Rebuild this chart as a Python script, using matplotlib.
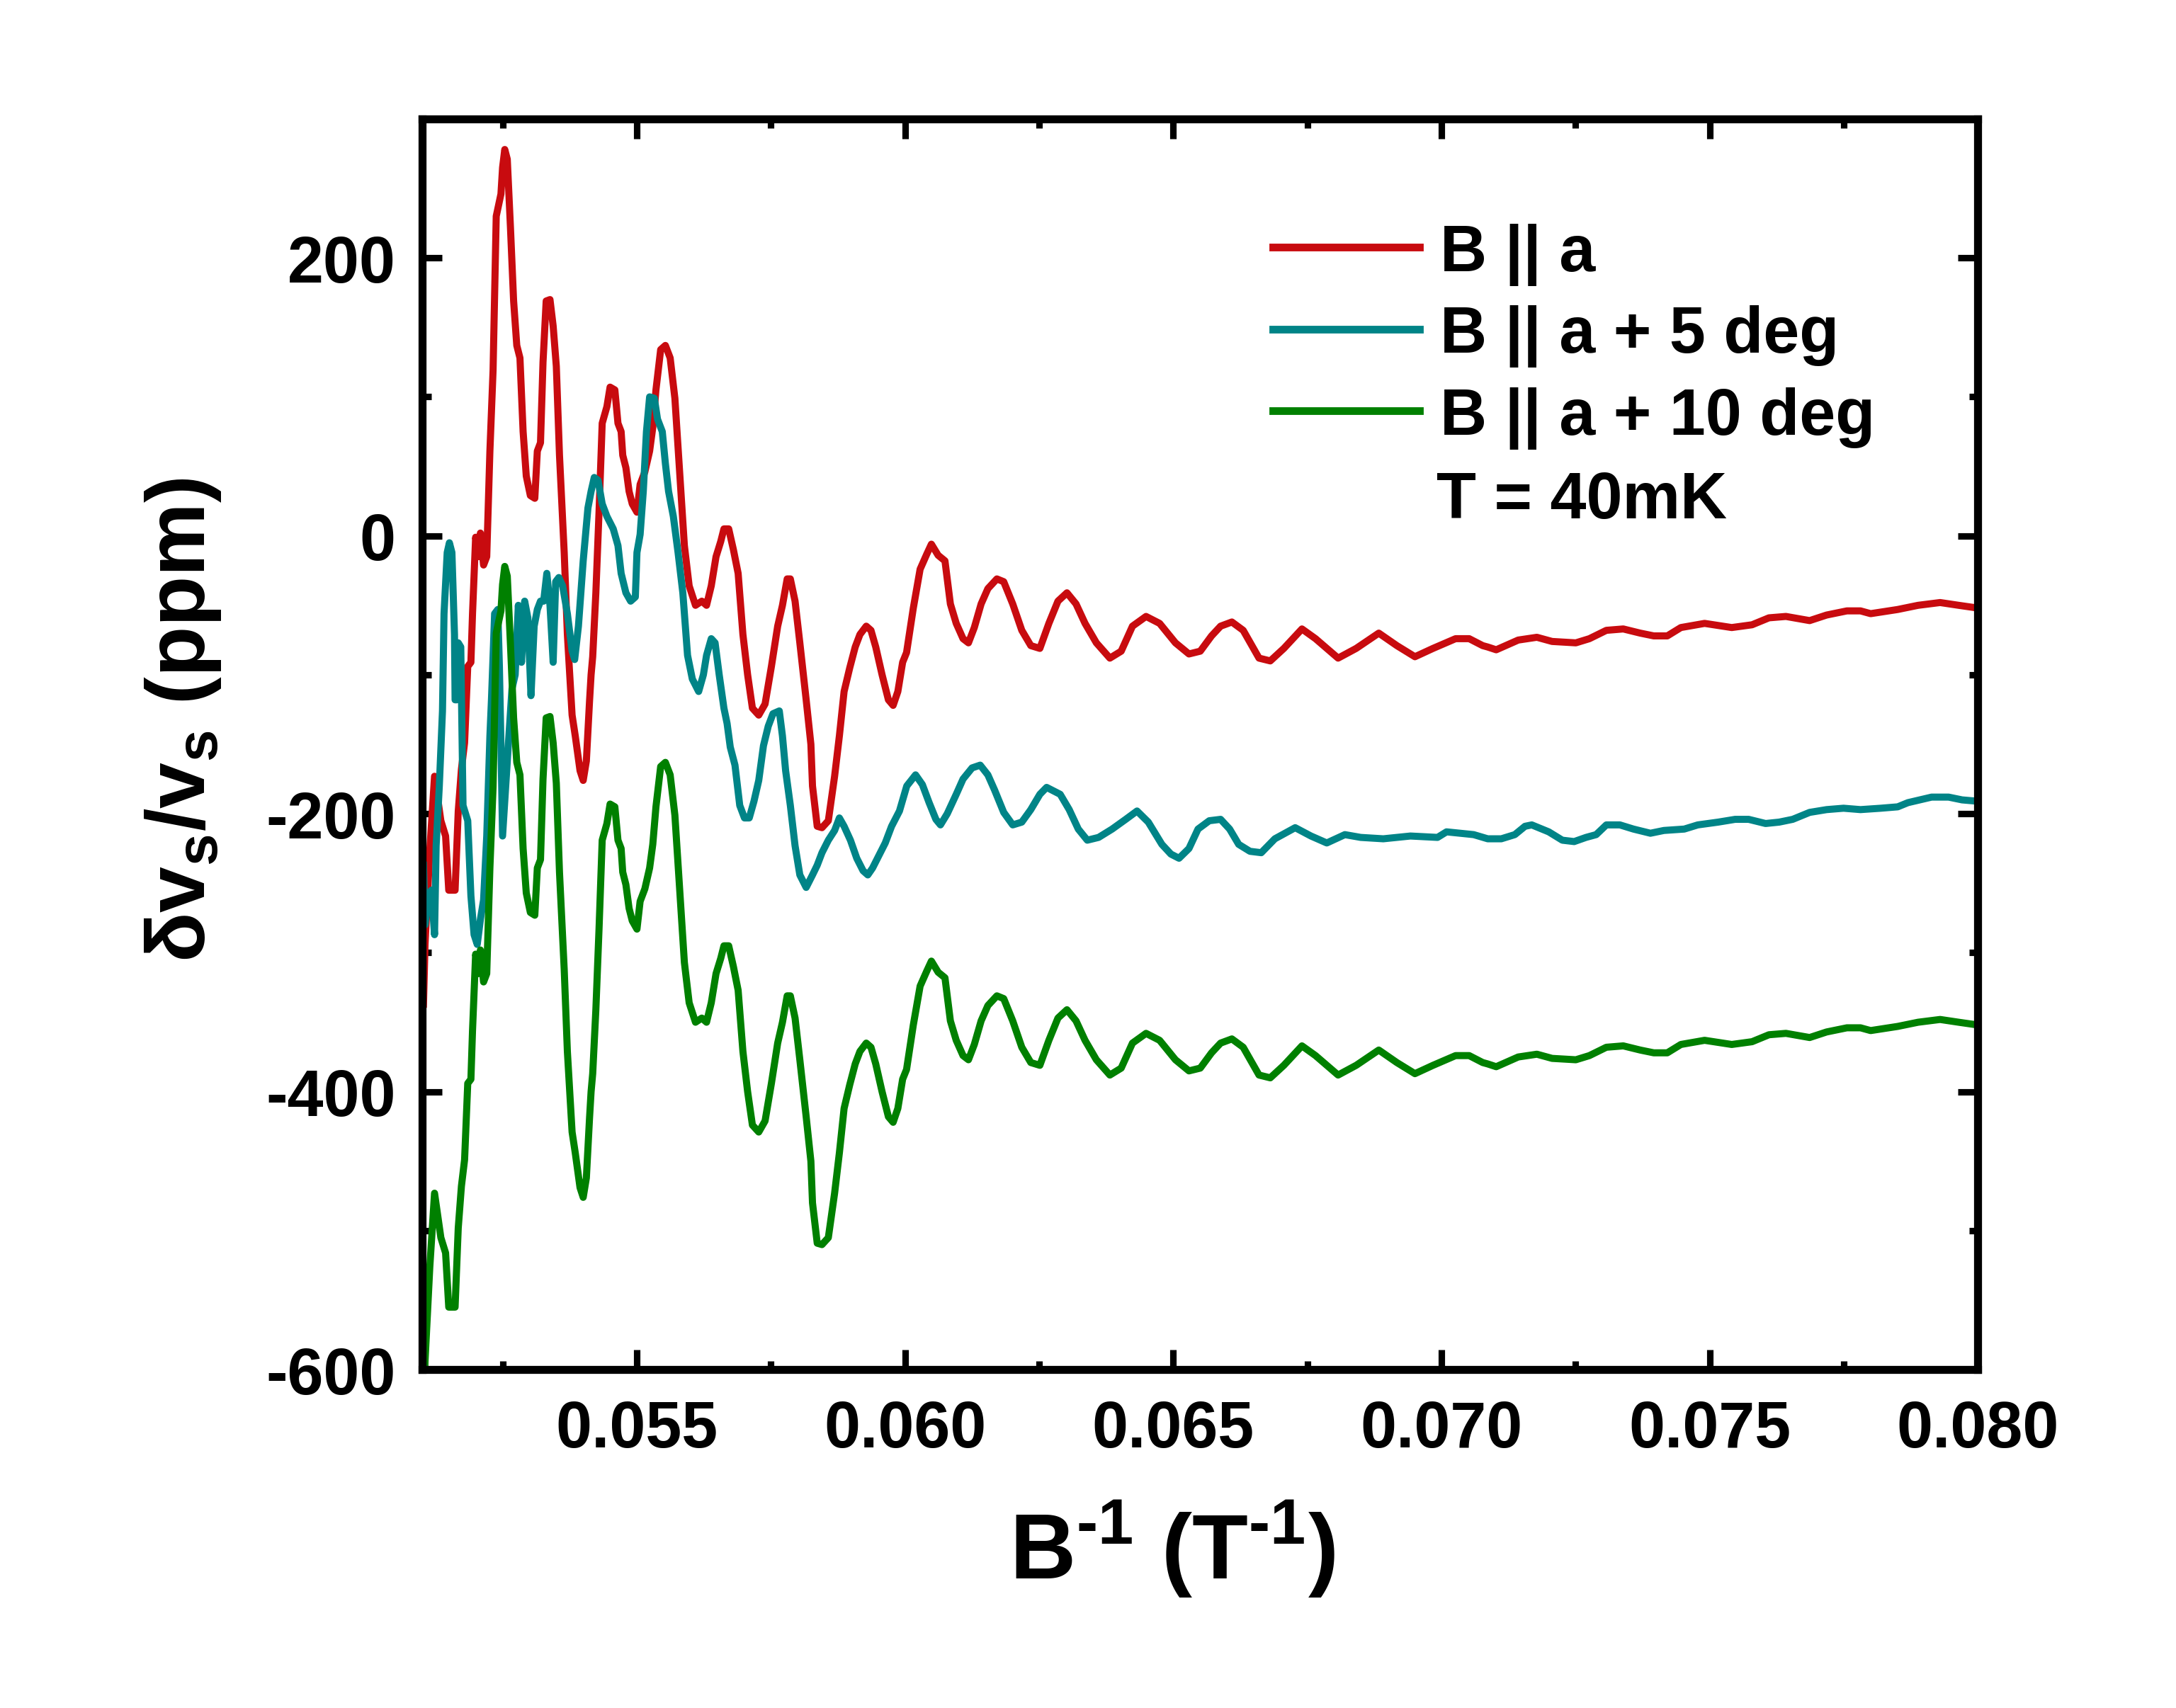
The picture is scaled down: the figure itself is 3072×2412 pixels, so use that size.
import numpy as np
import matplotlib
matplotlib.use("Agg")
import matplotlib.pyplot as plt
from matplotlib.ticker import MultipleLocator

plt.rcParams['font.family'] = ['Liberation Sans', 'DejaVu Sans']
plt.rcParams['font.weight'] = 'bold'
plt.rcParams['axes.unicode_minus'] = False
plt.rcParams['mathtext.fontset'] = 'custom'
plt.rcParams['mathtext.rm'] = 'Liberation Sans:bold'
plt.rcParams['mathtext.bf'] = 'Liberation Sans:bold'
plt.rcParams['mathtext.default'] = 'rm'

# B || a  (red)
red_x = [0.051025, 0.051054, 0.051143, 0.051231, 0.051349, 0.051437, 0.051496, 0.051614,
         0.051673, 0.051732, 0.051791, 0.051850, 0.051909, 0.051939, 0.051997, 0.052056,
         0.052086, 0.052145, 0.052204, 0.052263, 0.052322, 0.052381, 0.052469, 0.052499,
         0.052540, 0.052587, 0.052646, 0.052705, 0.052764, 0.052823, 0.052882, 0.052941,
         0.053017, 0.053100, 0.053147, 0.053206, 0.053253, 0.053312, 0.053383, 0.053442,
         0.053501, 0.053560, 0.053648, 0.053707, 0.053795, 0.053854, 0.053943, 0.054002,
         0.054061, 0.054120, 0.054149, 0.054179, 0.054238, 0.054297, 0.054356, 0.054444,
         0.054503, 0.054592, 0.054650, 0.054709, 0.054739, 0.054798, 0.054857, 0.054916,
         0.055004, 0.055063, 0.055151, 0.055240, 0.055299, 0.055358, 0.055446, 0.055534,
         0.055623, 0.055711, 0.055800, 0.055888, 0.055977, 0.056095, 0.056213, 0.056301,
         0.056389, 0.056478, 0.056566, 0.056625, 0.056714, 0.056802, 0.056890, 0.056979,
         0.057067, 0.057156, 0.057274, 0.057392, 0.057510, 0.057627, 0.057716, 0.057804,
         0.057863, 0.057951, 0.058040, 0.058158, 0.058246, 0.058276, 0.058364, 0.058453,
         0.058571, 0.058688, 0.058777, 0.058865, 0.058970, 0.059072, 0.059160, 0.059278,
         0.059366, 0.059455, 0.059573, 0.059691, 0.059779, 0.059867, 0.059956, 0.060029,
         0.060155, 0.060282, 0.060408, 0.060492, 0.060618, 0.060745, 0.060846, 0.060955,
         0.061082, 0.061183, 0.061292, 0.061419, 0.061545, 0.061713, 0.061840, 0.062008,
         0.062177, 0.062345, 0.062514, 0.062682, 0.062851, 0.063019, 0.063188, 0.063356,
         0.063567, 0.063819, 0.064030, 0.064240, 0.064493, 0.064746, 0.065041, 0.065293,
         0.065504, 0.065714, 0.065883, 0.066093, 0.066304, 0.066599, 0.066809, 0.067062,
         0.067399, 0.067652, 0.068073, 0.068410, 0.068831, 0.069168, 0.069505, 0.069842,
         0.070263, 0.070516, 0.070768, 0.070862, 0.071020, 0.071430, 0.071778, 0.072062,
         0.072504, 0.072757, 0.073073, 0.073388, 0.073704, 0.073957, 0.074209, 0.074462,
         0.074904, 0.075410, 0.075789, 0.076104, 0.076420, 0.076862, 0.077178, 0.077557,
         0.077810, 0.077999, 0.078504, 0.078883, 0.079294, 0.079641, 0.080000]
red_y = [-337, -294, -226, -173, -205, -216, -255, -255,
         -198, -168, -149, -94, -91, -56, -1, -15,
         2, -21, -15, 61, 119, 230, 246, 265,
         278, 271, 222, 169, 137, 128, 75, 43,
         29, 27, 61, 67, 125, 169, 170, 151,
         122, 58, -12, -71, -129, -144, -169, -176,
         -162, -119, -100, -87, -41, 17, 81, 93,
         107, 105, 81, 75, 58, 49, 32, 23,
         17, 37, 46, 61, 78, 105, 134, 137,
         128, 99, 46, -7, -36, -50, -47, -50,
         -36, -15, -4, 5, 5, -10, -27, -71,
         -100, -124, -129, -121, -94, -65, -50, -31,
         -31, -47, -77, -118, -150, -180, -209, -210,
         -205, -173, -144, -112, -95, -80, -71, -65,
         -68, -80, -100, -118, -122, -112, -91, -84,
         -52, -24, -13, -6, -14, -18, -49, -63,
         -74, -77, -66, -49, -38, -31, -33, -49,
         -68, -79, -81, -63, -47, -41, -49, -63,
         -77, -88, -83, -65, -58, -63, -77, -85,
         -83, -72, -65, -62, -68, -88, -90, -81,
         -67, -74, -88, -81, -70, -79, -87, -81,
         -74, -74, -79, -80, -82, -75, -73, -76,
         -77, -74, -68, -67, -70, -72, -72, -66,
         -63, -66, -64, -59, -58, -61, -57, -54,
         -54, -56, -53, -50, -48, -50, -52]

# B || a + 5 deg  (teal)
teal_x = [0.051025, 0.051054, 0.051113, 0.051172, 0.051231, 0.051261, 0.051320, 0.051379,
          0.051408, 0.051467, 0.051508, 0.051555, 0.051603, 0.051614, 0.051644, 0.051673,
          0.051720, 0.051762, 0.051850, 0.051909, 0.051968, 0.052027, 0.052086, 0.052145,
          0.052204, 0.052263, 0.052292, 0.052351, 0.052410, 0.052440, 0.052469, 0.052499,
          0.052558, 0.052617, 0.052675, 0.052734, 0.052793, 0.052852, 0.052911, 0.052970,
          0.053029, 0.053088, 0.053147, 0.053206, 0.053265, 0.053324, 0.053383, 0.053442,
          0.053489, 0.053548, 0.053619, 0.053707, 0.053795, 0.053843, 0.053913, 0.054002,
          0.054090, 0.054149, 0.054208, 0.054279, 0.054356, 0.054444, 0.054562, 0.054650,
          0.054709, 0.054798, 0.054886, 0.054974, 0.055004, 0.055063, 0.055122, 0.055181,
          0.055240, 0.055328, 0.055387, 0.055476, 0.055534, 0.055593, 0.055682, 0.055770,
          0.055859, 0.055947, 0.056036, 0.056154, 0.056242, 0.056301, 0.056389, 0.056460,
          0.056537, 0.056625, 0.056684, 0.056743, 0.056831, 0.056920, 0.057008, 0.057097,
          0.057185, 0.057274, 0.057362, 0.057451, 0.057539, 0.057657, 0.057716, 0.057775,
          0.057863, 0.057951, 0.058040, 0.058158, 0.058276, 0.058364, 0.058453, 0.058571,
          0.058688, 0.058777, 0.058865, 0.058983, 0.059101, 0.059219, 0.059307, 0.059396,
          0.059514, 0.059632, 0.059750, 0.059897, 0.060033, 0.060197, 0.060324, 0.060450,
          0.060576, 0.060661, 0.060787, 0.060955, 0.061082, 0.061250, 0.061402, 0.061545,
          0.061671, 0.061840, 0.062008, 0.062177, 0.062345, 0.062514, 0.062640, 0.062893,
          0.063061, 0.063230, 0.063398, 0.063609, 0.063861, 0.064114, 0.064325, 0.064535,
          0.064788, 0.064956, 0.065108, 0.065293, 0.065462, 0.065672, 0.065883, 0.066051,
          0.066220, 0.066430, 0.066641, 0.066894, 0.067273, 0.067567, 0.067862, 0.068199,
          0.068494, 0.068915, 0.069421, 0.069926, 0.070094, 0.070600, 0.070862, 0.071115,
          0.071367, 0.071557, 0.071683, 0.071999, 0.072252, 0.072473, 0.072694, 0.072883,
          0.073073, 0.073325, 0.073578, 0.073894, 0.074146, 0.074525, 0.074778, 0.075157,
          0.075473, 0.075725, 0.076041, 0.076294, 0.076546, 0.076862, 0.077178, 0.077494,
          0.077810, 0.078189, 0.078504, 0.078694, 0.079136, 0.079452, 0.079704, 0.080000]
teal_y = [-237, -280, -259, -255, -287, -223, -180, -126,
          -56, -12, -5, -12, -71, -118, -118, -77,
          -80, -194, -205, -259, -287, -294, -276, -262,
          -216, -144, -118, -56, -53, -94, -150, -216,
          -180, -144, -110, -100, -50, -91, -47, -59,
          -115, -65, -53, -47, -47, -27, -50, -91,
          -33, -30, -36, -56, -83, -89, -65, -18,
          20, 32, 42, 40, 23, 14, 5, -7,
          -27, -41, -47, -44, -12, 1, 32, 75,
          100, 99, 84, 75, 52, 32, 14, -12,
          -41, -86, -103, -112, -100, -86, -74, -77,
          -100, -124, -135, -152, -165, -194, -203, -203,
          -191, -176, -151, -137, -128, -126, -144, -169,
          -194, -223, -244, -253, -244, -237, -228, -219,
          -212, -203, -209, -219, -232, -241, -244, -239,
          -230, -221, -209, -198, -180, -172, -179, -192,
          -204, -208, -200, -186, -175, -167, -165, -172,
          -183, -199, -208, -206, -197, -186, -181, -186,
          -197, -211, -219, -217, -211, -204, -198, -206,
          -222, -229, -232, -225, -211, -205, -204, -211,
          -222, -227, -228, -218, -210, -216, -221, -215,
          -217, -218, -216, -217, -213, -215, -218, -218,
          -215, -209, -208, -213, -219, -220, -217, -215,
          -208, -208, -211, -214, -212, -211, -208, -206,
          -204, -204, -207, -206, -204, -199, -197, -196,
          -197, -196, -195, -192, -188, -188, -190, -191]

# B || a + 10 deg (green) is drawn with the same trace as red, shifted down
green_offset = -300

red_color = '#C80B0F'
teal_color = '#008487'
green_color = '#008000'

fig = plt.figure(figsize=(10.24, 8.0433), dpi=300)
ax = fig.add_axes([0.194, 0.198, 0.715, 0.732])

lw = 2.4
ax.plot(red_x, red_y, color=red_color, lw=lw, label='B || a')
ax.plot(teal_x, teal_y, color=teal_color, lw=lw, label='B || a + 5 deg')
ax.plot(red_x, np.array(red_y) + green_offset, color=green_color, lw=lw,
        label='B || a + 10 deg')

ax.set_xlim(0.051, 0.080)
ax.set_ylim(-600, 300)
ax.xaxis.set_major_locator(MultipleLocator(0.005))
ax.xaxis.set_minor_locator(MultipleLocator(0.0025))
ax.yaxis.set_major_locator(MultipleLocator(200))
ax.yaxis.set_minor_locator(MultipleLocator(100))
ax.xaxis.set_major_formatter(plt.FuncFormatter(lambda v, p: '%.3f' % v))

for s in ax.spines.values():
    s.set_linewidth(2.7)
ax.tick_params(which='both', direction='in', top=True, right=True, width=2.2)
ax.tick_params(which='major', length=6.7, labelsize=22)
ax.tick_params(which='minor', length=3.0)
ax.tick_params(axis='x', pad=10)
ax.tick_params(axis='y', pad=9)

ax.set_xlabel('B$^{\\text{-1}}$ (T$^{\\text{-1}}$)', fontsize=31, fontweight='bold')
ax.xaxis.set_label_coords(0.482, -0.103)
ax.set_ylabel('δv$_{s}$/v$_{s}$ (ppm)', fontsize=28, fontweight='bold')
ax.yaxis.set_label_coords(-0.128, 0.52)

leg = ax.legend(loc='upper left', bbox_to_anchor=(0.547, 0.917), frameon=False,
                fontsize=22, handlelength=2.25, handletextpad=0.32,
                labelspacing=0.3, borderpad=0, borderaxespad=0)
for line in leg.get_lines():
    line.set_linewidth(2.6)
ax.text(0.652, 0.695, 'T = 40mK', transform=ax.transAxes, fontsize=22,
        fontweight='bold', va='center', ha='left')

fig.savefig('out.png', dpi=300)
